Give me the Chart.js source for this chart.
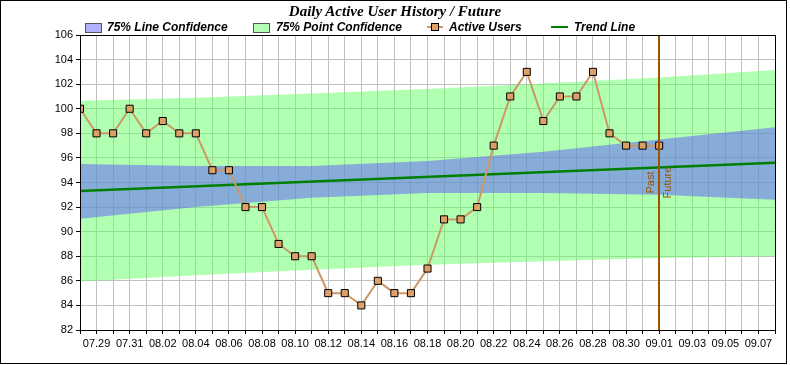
<!DOCTYPE html>
<html lang="en">
<head>
<meta charset="UTF-8" />
<title>Daily Active User History / Future</title>
<script src="https://cdn.jsdelivr.net/npm/chart.js"></script>
<style>
  html, body { margin: 0; padding: 0; background: #fff; }
  body { width: 790px; height: 365px; position: relative; overflow: hidden; font-family: "Liberation Sans", Arial, sans-serif; }
  .frame { position: absolute; left: 0; top: 0; width: 787px; height: 364px; border: 1px solid #000; box-sizing: border-box; }
  canvas { position: absolute; left: 0; top: 0; }
  .title {
    position: absolute; left: 0; top: 3px; width: 790px; text-align: center;
    font: italic bold 15px "Liberation Serif", "Times New Roman", serif; color: #000;
  }
  .legend { position: absolute; top: 20px; left: 0; height: 14px; font: italic bold 12px "Liberation Sans", Arial, sans-serif; }
  .item { position: absolute; top: 0; height: 14px; line-height: 14px; white-space: nowrap; }
  .box { position: absolute; top: 3px; width: 15px; height: 8px; border: 1px solid #555; }
  .icon { position: absolute; top: 0; width: 16px; height: 14px; }
</style>
</head>
<body>
<div class="frame"></div>
<canvas id="chart" width="790" height="365"></canvas>
<div class="title">Daily Active User History / Future</div>
<div class="legend">
  <div class="box" style="left:85px;background:#b0b0ff"></div>
  <div class="item" style="left:107px">75% Line Confidence</div>
  <div class="box" style="left:253px;background:#b3ffb3"></div>
  <div class="item" style="left:276px">75% Point Confidence</div>
  <div class="icon" style="left:427px">
    <div style="position:absolute;left:0;top:6px;width:16px;height:2px;background:#cc9966"></div>
    <div style="position:absolute;left:4px;top:3px;width:6px;height:6px;background:#dda066;border:1px solid #000"></div>
  </div>
  <div class="item" style="left:449px">Active Users</div>
  <div class="icon" style="left:551px">
    <div style="position:absolute;left:0;top:6px;width:17px;height:2px;background:#008000"></div>
  </div>
  <div class="item" style="left:574px">Trend Line</div>
</div>

<script>
// day labels, 07.28 -> 09.08
const dates = [
  '07.28', '07.29', '07.30', '07.31',
  '08.01', '08.02', '08.03', '08.04', '08.05', '08.06', '08.07', '08.08', '08.09', '08.10',
  '08.11', '08.12', '08.13', '08.14', '08.15', '08.16', '08.17', '08.18', '08.19', '08.20',
  '08.21', '08.22', '08.23', '08.24', '08.25', '08.26', '08.27', '08.28', '08.29', '08.30', '08.31',
  '09.01', '09.02', '09.03', '09.04', '09.05', '09.06', '09.07', '09.08'
];

// active users, one per day from 07.28 to 09.01
const activeUsers = [
  100, 98, 98, 100, 98, 99, 98, 98, 95, 95, 92, 92, 89, 88, 88, 85, 85, 84,
  86, 85, 85, 87, 91, 91, 92, 97, 101, 103, 99, 101, 101, 103, 98, 97, 97, 97
];

// trend line ends
const trendDays = [0, 42];
const trendValues = [93.3, 95.6];

// confidence bands read at every 7th day
const bandDays = [0, 7, 14, 21, 28, 35, 42];
const lineConfUpper = [95.5, 95.35, 95.35, 95.75, 96.5, 97.5, 98.5];
const lineConfLower = [91.05, 92.0, 92.75, 93.15, 93.15, 93.0, 92.6];
const pointConfUpper = [100.65, 100.9, 101.25, 101.6, 102.05, 102.55, 103.15];
const pointConfLower = [85.95, 86.45, 86.9, 87.3, 87.6, 87.85, 88.0];

const yTicks = [82, 84, 86, 88, 90, 92, 94, 96, 98, 100, 102, 104, 106];
const markDay = 35; // 09.01, past / future split

const pts = (xs, ys) => xs.map((x, i) => ({ x: x, y: ys[i] }));
const dayIdx = activeUsers.map((v, i) => i);

const band = (data, color, fill, order) => ({
  data: data, borderWidth: 0, pointRadius: 0, backgroundColor: color,
  fill: fill, order: order, tension: 0
});

const frameAndMark = {
  id: 'frameAndMark',
  afterDatasetsDraw(chart) {
    const { ctx, chartArea: a, scales } = chart;
    const x = Math.round(scales.x.getPixelForValue(markDay));
    ctx.save();
    ctx.strokeStyle = '#9a5500';
    ctx.lineWidth = 2;
    ctx.beginPath();
    ctx.moveTo(x, a.top);
    ctx.lineTo(x, a.bottom);
    ctx.stroke();
    ctx.fillStyle = '#9a5500';
    ctx.font = '11px "Liberation Sans", Arial, sans-serif';
    ctx.translate(x, (a.top + a.bottom) / 2);
    ctx.rotate(-Math.PI / 2);
    ctx.textAlign = 'center';
    ctx.textBaseline = 'bottom';
    ctx.fillText('Past', 0, -3);
    ctx.textBaseline = 'top';
    ctx.fillText('Future', 0, 3);
    ctx.restore();
  },
  afterDraw(chart) {
    const { ctx, chartArea: a } = chart;
    ctx.save();
    ctx.strokeStyle = '#000';
    ctx.lineWidth = 1;
    ctx.strokeRect(Math.round(a.left) + 0.5, Math.round(a.top) + 0.5,
      Math.round(a.right - a.left), Math.round(a.bottom - a.top));
    ctx.restore();
  }
};

new Chart(document.getElementById('chart').getContext('2d'), {
  type: 'line',
  data: {
    datasets: [
      Object.assign(band(pts(bandDays, pointConfUpper), 'rgba(100,255,100,0.5)', '+1', 6), { label: '75% Point Confidence' }),
      band(pts(bandDays, pointConfLower), 'rgba(100,255,100,0.5)', false, 5),
      Object.assign(band(pts(bandDays, lineConfUpper), 'rgba(96,90,255,0.5)', '+1', 4), { label: '75% Line Confidence' }),
      band(pts(bandDays, lineConfLower), 'rgba(96,90,255,0.5)', false, 3),
      {
        label: 'Trend Line', data: pts(trendDays, trendValues), borderColor: '#008000',
        borderWidth: 2.5, pointRadius: 0, fill: false, order: 2
      },
      {
        label: 'Active Users', data: pts(dayIdx, activeUsers), borderColor: '#cc9966',
        borderWidth: 2, pointStyle: 'rect', pointRadius: 5, pointBackgroundColor: '#dda066',
        pointBorderColor: '#000', pointBorderWidth: 1, fill: false, order: 1, tension: 0
      }
    ]
  },
  options: {
    responsive: false,
    animation: false,
    events: [],
    layout: { padding: { left: 10, right: 15, top: 35, bottom: 10 } },
    plugins: { legend: { display: false }, title: { display: false }, tooltip: { enabled: false } },
    scales: {
      x: {
        type: 'linear', min: 0, max: dates.length - 1,
        afterBuildTicks: s => { s.ticks = dates.map((d, i) => ({ value: i })); },
        afterFit: s => { s.height = 25; },
        grid: { color: '#c0c0c0', tickColor: '#000', tickLength: 4 },
        border: { color: '#000' },
        ticks: {
          autoSkip: false, maxRotation: 0, padding: 3, color: '#000',
          font: { family: '"Liberation Sans", Arial, sans-serif', size: 11 },
          callback: v => (v % 2 === 1 ? dates[v] : '')
        }
      },
      y: {
        min: yTicks[0], max: yTicks[yTicks.length - 1],
        afterBuildTicks: s => { s.ticks = yTicks.map(v => ({ value: v })); },
        afterFit: s => { s.width = 70; },
        grid: { color: '#c0c0c0', tickColor: '#000', tickLength: 4 },
        border: { color: '#000' },
        ticks: {
          padding: 3, color: '#000',
          font: { family: '"Liberation Sans", Arial, sans-serif', size: 11 }
        }
      }
    }
  },
  plugins: [frameAndMark]
});
</script>
</body>
</html>
